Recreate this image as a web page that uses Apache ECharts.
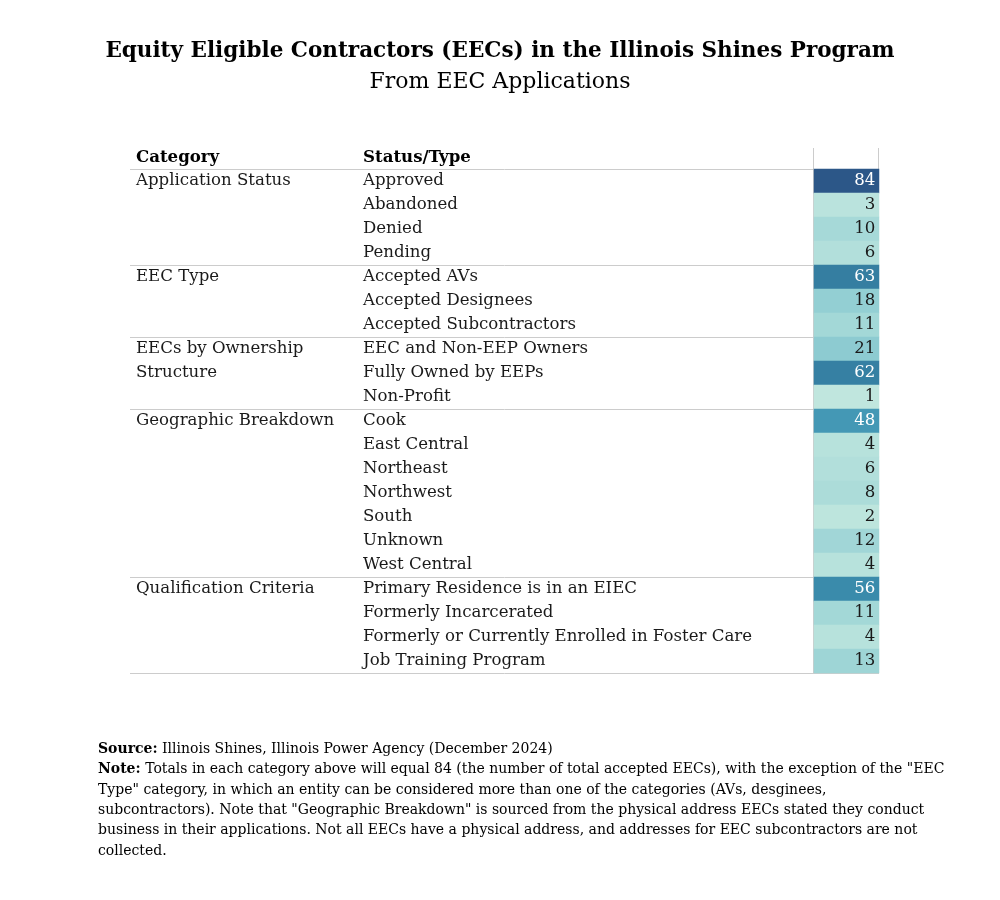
<!DOCTYPE html>
<html>
<head>
<meta charset="utf-8">
<script src="https://cdn.jsdelivr.net/npm/echarts@6/dist/echarts.min.js"></script>
<style>html,body{margin:0;padding:0;background:#fff}#c{width:1000px;height:900px}</style>
</head>
<body>
<div id="c"></div>
<script>
const groupNames = [['Application Status'], ['EEC Type'], ['EECs by Ownership', 'Structure'], ['Geographic Breakdown'], ['Qualification Criteria']];
const groupSizes = [4, 3, 3, 7, 4];
const statuses = ['Approved', 'Abandoned', 'Denied', 'Pending',
  'Accepted AVs', 'Accepted Designees', 'Accepted Subcontractors',
  'EEC and Non-EEP Owners', 'Fully Owned by EEPs', 'Non-Profit',
  'Cook', 'East Central', 'Northeast', 'Northwest', 'South', 'Unknown', 'West Central',
  'Primary Residence is in an EIEC', 'Formerly Incarcerated', 'Formerly or Currently Enrolled in Foster Care', 'Job Training Program'];
const counts = [84, 3, 10, 6, 63, 18, 11, 21, 62, 1, 48, 4, 6, 8, 2, 12, 4, 56, 11, 4, 13];
const colorStops = ['#c0e6de', '#a2d7d7', '#8bcad0', '#6cb8c6', '#4ca2bb', '#3c90af', '#357ea1', '#316b95', '#2c5788'];

const SERIF = '"DejaVu Serif", serif';
const FS = 16.6;

// per-row category labels
const catLabels = statuses.map(() => '');
let start = 0;
const groupStarts = [];
groupSizes.forEach((n, g) => {
  groupStarts.push(start);
  groupNames[g].forEach((line, k) => { catLabels[start + k] = line; });
  start += n;
});

const chart = echarts.init(document.getElementById('c'), null, {renderer: 'canvas'});
const heatData = counts.map((v, i) => ({
  value: [0, i, v],
  label: {color: v > 40 ? '#ffffff' : '#1a1a1a'}
}));

chart.setOption({
  backgroundColor: '#fff',
  animation: false,
  title: {
    text: 'Equity Eligible Contractors (EECs) in the Illinois Shines Program',
    subtext: 'From EEC Applications',
    left: 'center', top: 35, itemGap: 9,
    textStyle: {fontFamily: SERIF, fontWeight: 'bold', fontSize: 21.5, color: '#000'},
    subtextStyle: {fontFamily: SERIF, fontSize: 22, color: '#000'}
  },
  grid: {left: 814, top: 169, width: 65, height: 504, containLabel: false},
  xAxis: {type: 'category', data: [''], show: false},
  yAxis: [
    {type: 'category', data: statuses, inverse: true, position: 'left',
      axisLine: {show: false}, axisTick: {show: false}, splitLine: {show: false},
      axisLabel: {align: 'left', margin: 451, fontFamily: SERIF, fontSize: FS, color: '#1a1a1a', interval: 0, padding: [4, 0, 0, 0]}},
    {type: 'category', data: statuses, inverse: true, position: 'left',
      axisLine: {show: false}, axisTick: {show: false}, splitLine: {show: false},
      axisLabel: {align: 'left', margin: 678, fontFamily: SERIF, fontSize: FS, color: '#1a1a1a', interval: 0, padding: [4, 0, 0, 0],
        formatter: (v, i) => catLabels[i]}}
  ],
  visualMap: {show: false, type: 'continuous', min: 1, max: 84, dimension: 2, inRange: {color: colorStops}},
  series: [{
    type: 'heatmap', data: heatData,
    label: {show: true, position: 'insideRight', distance: 4, fontFamily: SERIF, fontSize: FS, padding: [4, 0, 0, 0]},
    itemStyle: {borderWidth: 0},
    emphasis: {disabled: true}
  }]
});

// table rules drawn from axis positions
const p0 = chart.convertToPixel({yAxisIndex: 0}, 0);
const p1 = chart.convertToPixel({yAxisIndex: 0}, 1);
const half = (p1 - p0) / 2;
const lastY = chart.convertToPixel({yAxisIndex: 0}, statuses.length - 1) + half;
const cellLeft = chart.convertToPixel({xAxisIndex: 0}, 0) - 32.5;
const cellRight = cellLeft + 65;
const tableLeft = 130;
const headerY = p0 - half - 12;
const lineStyle = {stroke: '#cccccc', lineWidth: 1};
const graphics = [];
groupStarts.forEach(s => {
  const y = Math.round(chart.convertToPixel({yAxisIndex: 0}, s) - half) + 0.5;
  graphics.push({type: 'line', z: -1, shape: {x1: tableLeft, y1: y, x2: cellRight, y2: y}, style: lineStyle});
});
graphics.push({type: 'line', z: -1, shape: {x1: tableLeft, y1: Math.round(lastY) + 0.5, x2: cellRight, y2: Math.round(lastY) + 0.5}, style: lineStyle});
graphics.push({type: 'line', z: -1, shape: {x1: Math.round(cellLeft) - 0.5, y1: 148, x2: Math.round(cellLeft) - 0.5, y2: Math.round(lastY)}, style: lineStyle});
graphics.push({type: 'line', z: -1, shape: {x1: Math.round(cellRight) - 0.5, y1: 148, x2: Math.round(cellRight) - 0.5, y2: Math.round(p0 - half)}, style: lineStyle});
graphics.push({type: 'text', left: 136, top: headerY - 8, style: {text: 'Category', font: 'bold ' + FS + 'px ' + SERIF, fill: '#000'}});
graphics.push({type: 'text', left: 363, top: headerY - 8, style: {text: 'Status/Type', font: 'bold ' + FS + 'px ' + SERIF, fill: '#000'}});
graphics.push({
  type: 'text', left: 98, top: 739,
  style: {
    text: '{b|Source:} Illinois Shines, Illinois Power Agency (December 2024)\n' +
      '{b|Note:} Totals in each category above will equal 84 (the number of total accepted EECs), with the exception of the "EEC\n' +
      'Type" category, in which an entity can be considered more than one of the categories (AVs, desginees,\n' +
      'subcontractors). Note that "Geographic Breakdown" is sourced from the physical address EECs stated they conduct\n' +
      'business in their applications. Not all EECs have a physical address, and addresses for EEC subcontractors are not\n' +
      'collected.',
    font: '14px ' + SERIF, fill: '#000', lineHeight: 20.4,
    rich: {b: {fontWeight: 'bold', fontFamily: SERIF, fontSize: 14, lineHeight: 20.4}}
  }
});
chart.setOption({graphic: graphics});
</script>
</body>
</html>
